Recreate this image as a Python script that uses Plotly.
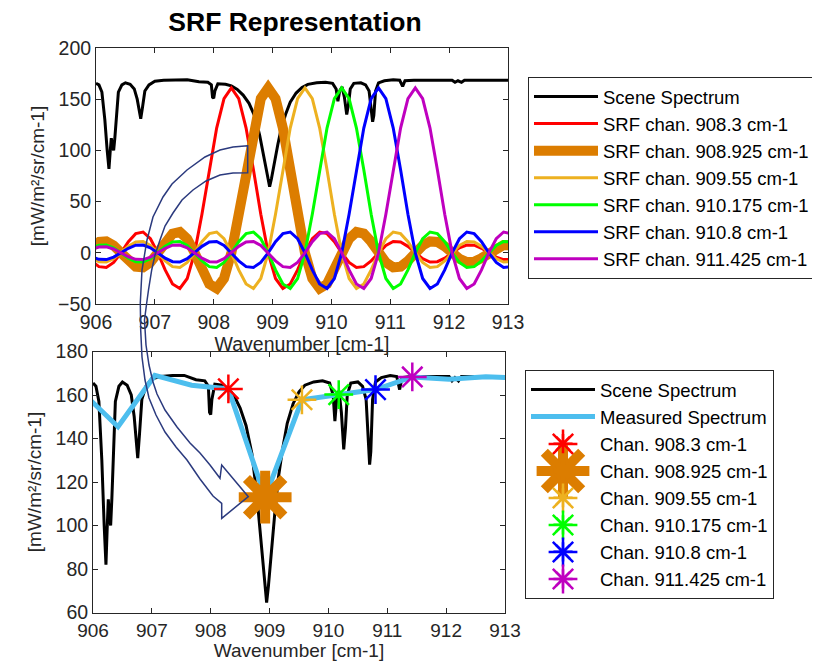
import plotly.graph_objects as go

# the page body adds an 8px margin, so the figure is 8px smaller than the window
OFF = 8
W, H = 820 - OFF, 661 - OFF

# scene spectrum
scene_wn = [906.00, 906.05, 906.10, 906.15, 906.19, 906.22, 906.24, 906.26, 906.28, 906.30,
            906.32, 906.35, 906.38, 906.44, 906.50, 906.58, 906.65, 906.70, 906.73, 906.76,
            906.79, 906.83, 906.90, 907.00, 907.15, 907.35, 907.55, 907.65, 907.75, 907.90,
            907.96, 907.98, 908.00, 908.02, 908.07, 908.20, 908.30, 908.40, 908.50, 908.60,
            908.70, 908.78, 908.85, 908.92, 908.95, 908.98, 909.03, 909.09, 909.15, 909.22,
            909.30, 909.40, 909.50, 909.60, 909.75, 909.90, 910.02, 910.08, 910.11, 910.14,
            910.18, 910.22, 910.26, 910.29, 910.32, 910.38, 910.50, 910.58, 910.64, 910.67,
            910.70, 910.72, 910.75, 910.80, 910.90, 911.05, 911.16, 911.21, 911.25, 911.40,
            911.80, 912.05, 912.10, 912.15, 912.21, 912.26, 912.60, 913.00]
scene_rad = [165.5, 164.0, 157.0, 130.0, 100.0, 82.0, 98.0, 112.0, 104.0, 100.0,
             112.0, 140.0, 157.0, 164.0, 166.0, 164.5, 160.0, 150.0, 138.0, 131.0,
             142.0, 158.0, 164.0, 167.5, 168.5, 169.0, 169.0, 168.0, 167.0, 166.5,
             164.0, 152.0, 151.0, 158.0, 165.0, 164.5, 163.0, 159.5, 154.0, 146.0,
             133.0, 115.0, 95.0, 72.0, 64.5, 72.0, 88.0, 106.0, 122.0, 135.0,
             147.0, 156.0, 161.5, 164.5, 166.0, 166.5, 165.5, 160.0, 148.0, 158.0,
             162.0, 152.0, 135.0, 145.0, 160.0, 165.5, 166.0, 164.0, 158.0, 140.0,
             128.0, 134.0, 158.0, 166.0, 168.0, 169.0, 168.5, 162.5, 168.0, 168.5,
             168.5, 168.5, 166.5, 168.0, 166.5, 168.5, 168.5, 168.5]

# SRF shape, one side from the channel centre, 0.125 cm-1 steps
srf_step = 0.125
srf_half = [161.0, 150.6, 121.8, 81.2, 37.7, 0.0, -25.1, -34.8, -30.5, -16.7,
            0.0, 13.7, 20.3, 18.7, 10.8, 0.0, -9.4, -14.3, -13.5, -7.9,
            0.0, 7.2, 11.1, 10.6, 6.3, 0.0, -5.8, -9.0, -8.7, -5.2,
            0.0, 4.9, 7.6, 7.4, 4.4, 0.0, -4.2, -6.6, -6.4, -3.9,
            0.0, 3.7, 5.8, 5.7, 3.4, 0.0, -3.3, -5.2, -5.1]

channels = [908.3, 908.925, 909.55, 910.175, 910.8, 911.425]
chan_names = ["908.3", "908.925", "909.55", "910.175", "910.8", "911.425"]
chan_colors = ["#FF0000", "#DC7D00", "#EDB120", "#00FF00", "#0000FF", "#BF00BF"]

# measured spectrum (one sample per channel)
meas_wn = [905.8, 906.425, 907.05, 907.675, 908.3, 908.925, 909.55, 910.175,
           910.8, 911.425, 912.05, 912.675, 913.3]
meas_rad = [161.7, 145.4, 169.0, 164.5, 162.8, 113.0, 157.8, 160.2,
            162.5, 168.3, 167.2, 168.4, 167.8]

FONT = "Liberation Sans, Arial, sans-serif"
INK = "#262626"


def px(x):
    return (x - OFF) / W


def py(y):
    return 1 - (y - OFF) / H


fig = go.Figure()

# ---- top panel
fig.add_trace(go.Scatter(x=scene_wn, y=scene_rad, mode="lines", name="Scene Spectrum",
                         line=dict(color="black", width=3), xaxis="x", yaxis="y",
                         legend="legend", legendgroup="a0"))

n = len(srf_half)
offsets = [-i * srf_step for i in range(n - 1, 0, -1)] + [i * srf_step for i in range(n)]
profile = srf_half[:0:-1] + srf_half
for i, c in enumerate(channels):
    fig.add_trace(go.Scatter(
        x=[c + o for o in offsets], y=profile, mode="lines",
        name="SRF chan. %s cm-1" % chan_names[i],
        line=dict(color=chan_colors[i], width=10 if i == 1 else 3),
        xaxis="x", yaxis="y", legend="legend", legendgroup="a%d" % (i + 1)))

# ---- bottom panel
fig.add_trace(go.Scatter(x=scene_wn, y=scene_rad, mode="lines", name="Scene Spectrum",
                         line=dict(color="black", width=3), xaxis="x2", yaxis="y2",
                         legend="legend2", legendgroup="b0"))
fig.add_trace(go.Scatter(x=meas_wn, y=meas_rad, mode="lines", name="Measured Spectrum",
                         line=dict(color="#4DBEEE", width=5), xaxis="x2", yaxis="y2",
                         legend="legend2", legendgroup="b1"))

star_size = [24, 44, 24, 24, 24, 24]
star_lw = [2.5, 10, 2.5, 2.5, 2.5, 2.5]
for i, c in enumerate(channels):
    k = meas_wn.index(c)
    fig.add_trace(go.Scatter(
        x=[meas_wn[k]], y=[meas_rad[k]], mode="markers",
        name="Chan. %s cm-1" % chan_names[i],
        marker=dict(symbol="asterisk-open", size=star_size[i], color=chan_colors[i],
                    line=dict(color=chan_colors[i], width=star_lw[i])),
        xaxis="x2", yaxis="y2", legend="legend2", legendgroup="b%d" % (i + 2)))

# legend glyphs for the stars at full size (plotly caps legend markers at 16px)
LEG1_X, LEG1_Y = 528, 77
LEG2_X, LEG2_Y = 525, 370
ROW0, PITCH = 20.0, 27.0
fig.add_trace(go.Scatter(
    x=[LEG2_X + 38] * len(channels),
    y=[LEG2_Y + ROW0 + (k + 2) * PITCH for k in range(len(channels))],
    mode="markers", showlegend=False, hoverinfo="skip", cliponaxis=False,
    marker=dict(symbol="asterisk-open", size=star_size, color=chan_colors, opacity=1,
                line=dict(color=chan_colors, width=star_lw)),
    xaxis="x3", yaxis="y3"))

# curved block arrow (outline in window pixels, drawn on top)
outer = [(247.7, 145.7), (233, 147), (220, 150), (205, 157), (187, 170), (172, 184),
         (163, 197), (153, 217), (147, 240), (142, 270), (140.3, 303), (140.7, 330),
         (142, 357), (145, 380), (149, 398), (156, 415), (165, 432), (176, 447),
         (187, 460), (200, 479), (213, 496), (221.7, 503.3)]
head = [(221.7, 518.3), (248.3, 496.7), (221.7, 465), (220, 478.3)]
inner = [(210, 465), (200, 453), (190, 443), (177, 427), (165, 410), (157, 394),
         (153, 382), (149, 365), (146, 345), (144.5, 320), (146.7, 303), (148.5, 290),
         (151.7, 270), (155, 255), (160, 240), (165, 226), (173, 213), (182, 200),
         (193, 190), (206, 181), (220, 175), (233, 173), (247.7, 172.7)]
pts = outer + head + inner
path = "M " + " L ".join("%.5f,%.5f" % (px(a), py(b)) for a, b in pts) + " Z"


def xax(left, right, anchor, standoff, fs, tstand):
    return dict(domain=[px(left), px(right)], anchor=anchor, range=[906, 913], dtick=1,
                ticks="inside", ticklen=5, tickcolor=INK, showline=True, linecolor=INK,
                linewidth=1, mirror="ticks", showgrid=False, zeroline=False,
                ticklabelstandoff=standoff, tickfont=dict(size=fs, color=INK, family=FONT),
                title=dict(text="Wavenumber [cm-1]", standoff=tstand,
                           font=dict(size=fs, color=INK, family=FONT)))


def yax(top, bottom, anchor, rng, dt):
    return dict(domain=[py(bottom), py(top)], anchor=anchor, range=rng, dtick=dt,
                ticks="inside", ticklen=5, tickcolor=INK, showline=True, linecolor=INK,
                linewidth=1, mirror="ticks", showgrid=False, zeroline=False,
                tickfont=dict(size=19.5, color=INK, family=FONT),
                title=dict(text="[mW/m²/sr/cm-1]", standoff=8,
                           font=dict(size=19, color=INK, family=FONT)))


leg = dict(xanchor="left", yanchor="top", bordercolor=INK, borderwidth=1,
           font=dict(size=18.5, color="black", family=FONT), itemwidth=64,
           traceorder="normal", tracegroupgap=0)

fig.update_layout(
    width=W, height=H, template="none",
    paper_bgcolor="white", plot_bgcolor="rgba(0,0,0,0)",
    margin=dict(l=0, r=0, t=0, b=0),
    font=dict(family=FONT, color=INK),
    title=dict(text="<b>SRF Representation</b>", x=px(295), xanchor="center",
               y=py(22), yanchor="middle",
               font=dict(size=26.5, color="black", family=FONT)),
    xaxis=xax(96, 508, "y", 1, 19.5, 3),
    yaxis=yax(48, 304, "x", [-50, 200], 50),
    xaxis2=xax(93, 505, "y2", 1, 19, 4),
    yaxis2=yax(351.5, 612.5, "x2", [60, 180], 20),
    xaxis3=dict(domain=[0, 1], range=[OFF, OFF + W], visible=False, fixedrange=True,
                anchor="y3"),
    yaxis3=dict(domain=[0, 1], range=[OFF + H, OFF], visible=False, fixedrange=True,
                anchor="x3"),
    legend=dict(leg, x=px(LEG1_X), y=py(LEG1_Y), bgcolor="white"),
    legend2=dict(leg, x=px(LEG2_X), y=py(LEG2_Y), bgcolor="rgba(0,0,0,0)"),
    shapes=[dict(type="path", xref="paper", yref="paper", path=path,
                 line=dict(color="#2B3A7E", width=1.5), fillcolor="rgba(0,0,0,0)",
                 layer="above")],
)

fig.write_html("out.html")
